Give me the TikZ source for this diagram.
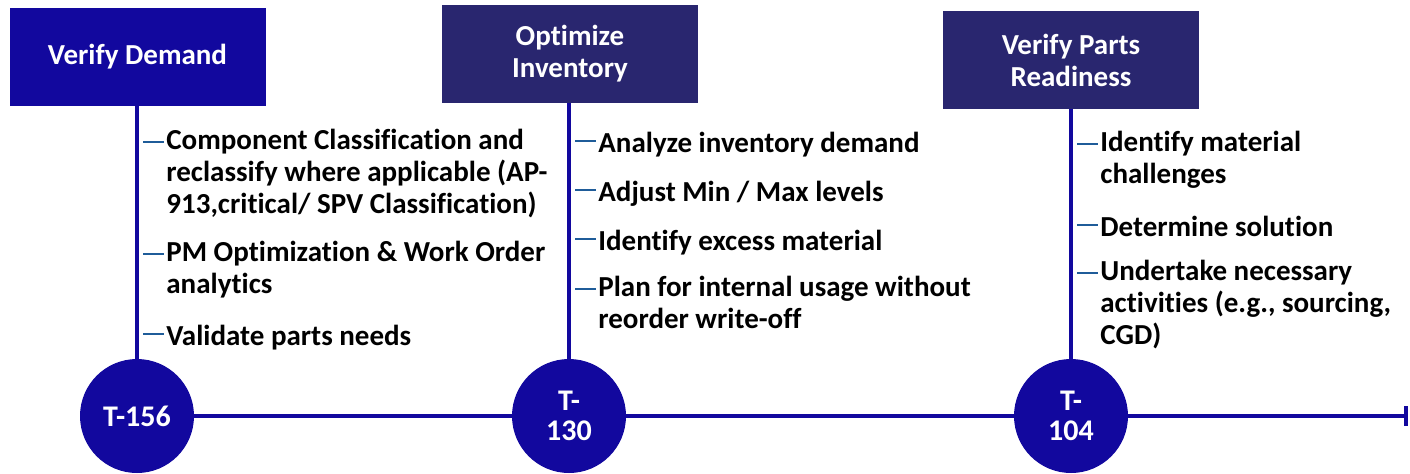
\documentclass[tikz,border=0pt]{standalone}
\usepackage{fontspec}
\setmainfont{Carlito}[Ligatures=NoCommon]
\usetikzlibrary{arrows.meta,positioning,calc}
\definecolor{stepblue}{HTML}{12089E}
\definecolor{phasenavy}{HTML}{29266F}
\definecolor{tickblue}{HTML}{1F5C99}
\tikzset{
	phase/.style={
		rectangle,
		fill=phasenavy,
		text=white,
		minimum width=128pt,
		minimum height=49pt,
		inner sep=0pt,
		align=center,
		font=\bfseries\fontsize{14.5}{16}\selectfont,
	},
	milestone/.style={
		circle,
		fill=stepblue,
		text=white,
		minimum size=57pt,
		inner sep=0pt,
		align=center,
		font=\bfseries\fontsize{15}{15}\selectfont,
	},
	item/.style={
		anchor=north west,
		align=left,
		inner sep=0pt,
		font=\bfseries\fontsize{14.5}{16}\selectfont,
		execute at begin node={\rule{0pt}{12pt}},
	},
	stem/.style={
		draw=stepblue,
		line width=2.2pt,
	},
	tick/.style={
		draw=tickblue,
		line width=1pt,
	},
}
\begin{document}
\begin{tikzpicture}[x=0.5pt,y=-0.5pt]
	\useasboundingbox (0,0) rectangle (1410,473);
	% phases
	\node [phase,fill=stepblue] (demand) at (137.5,56.5) {Verify Demand};
	\node [phase] (inventory) at (570,54) {Optimize\\Inventory};
	\node [phase] (readiness) at (1071,60) {Verify Parts\\Readiness};
	
	% milestones
	\node [milestone] (t156) at (137,416) {T-156};
	\node [milestone] (t130) at (569,416) {T-\\130};
	\node [milestone] (t104) at (1071,416) {T-\\104};
	\coordinate (tl-end) at (1408,416);
	
	\draw[stem] (t156.north) -- (t156.north |- demand.south);
	\draw[stem] (t130.north) -- (t130.north |- inventory.south);
	\draw[stem] (t104.north) -- (t104.north |- readiness.south);
	\draw[stem] (t156.east) -- (t130.west) (t130.east) -- (t104.west);
	\draw[stem,-{Bar[width=10pt]}] (t104.east) -- (tl-end);
	
	% tasks (y = first baseline - 20)
	\node [item] (d1) at (166,129) {Component Classification and\\reclassify where applicable (AP-\\913,critical/ SPV Classification)};
	\node [item] (d2) at (166,241) {PM Optimization \& Work Order\\analytics};
	\node [item] (d3) at (166,321) {Validate parts needs};
	
	\node [item] (o1) at (598,128) {Analyze inventory demand};
	\node [item] (o2) at (598,177) {Adjust Min / Max levels};
	\node [item] (o3) at (598,226) {Identify excess material};
	\node [item] (o4) at (598,276) {Plan for internal usage without\\reorder write-off};
	
	\node [item] (r1) at (1100,131) {Identify material\\challenges};
	\node [item] (r2) at (1100,212) {Determine solution};
	\node [item] (r3) at (1100,260) {Undertake necessary\\activities (e.g., sourcing,\\CGD)};
	
	\foreach \n in {d1,d2,d3,o1,o2,o3,o4,r1,r2,r3}
		\draw[tick] ($(\n.north west)+(-23,13)$) -- ++(21,0);
\end{tikzpicture}
\end{document}
